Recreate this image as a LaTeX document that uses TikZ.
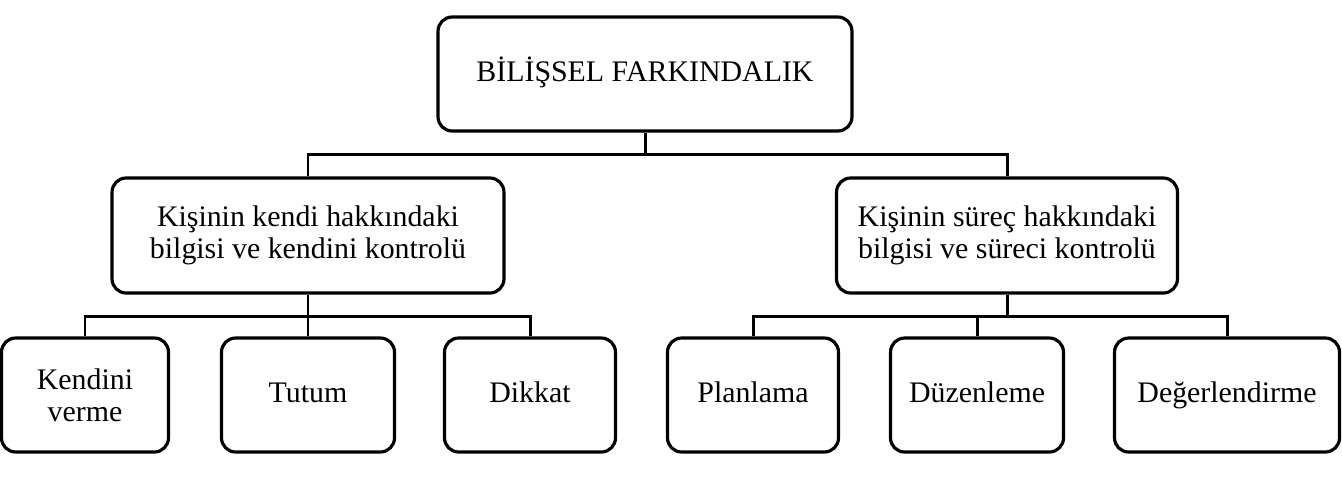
\documentclass[tikz,border=0pt]{standalone}
\usepackage{fontspec}
\setmainfont{Liberation Serif}
\tikzset{
  box/.style={draw, line width=1.8pt, rounded corners=8pt, align=center,
    minimum height=2.28cm, inner sep=2pt, font=\fontsize{17}{18}\selectfont},
  leaf/.style={box, text height=12pt, text depth=4pt},
  link/.style={line width=1.7pt}
}
\begin{document}
\begin{tikzpicture}[x=0.02cm,y=-0.02cm]
  \useasboundingbox (0,0) rectangle (1342,478);
  % top level
  \node[leaf, minimum width=8.28cm] (top) at (645,74) {BİLİŞSEL FARKINDALIK};
  % second level
  \node[box, minimum width=7.84cm, minimum height=2.3cm] (ml) at (308,235.5)
    {Kişinin kendi hakkındaki\\bilgisi ve kendini kontrolü};
  \node[box, minimum width=6.82cm, minimum height=2.3cm] (mr) at (1007,235.5)
    {Kişinin süreç hakkındaki\\bilgisi ve süreci kontrolü};
  % leaves
  \node[box, minimum width=3.34cm] (kv) at (85,395) {Kendini\\verme};
  \node[leaf, minimum width=3.46cm] (tt) at (308,395) {Tutum};
  \node[leaf, minimum width=3.42cm] (dk) at (530,395) {Dikkat};
  \node[leaf, minimum width=3.42cm] (pl) at (753,395) {Planlama};
  \node[leaf, minimum width=3.46cm] (dz) at (977,395) {Düzenleme};
  \node[leaf, minimum width=4.5cm] (dg) at (1227,395) {Değerlendirme};
  % connectors
  \coordinate (bus1) at (645,154);
  \coordinate (busl) at (308,316);
  \coordinate (busr) at (1007,316);
  \draw[link] (top.south) -- (bus1);
  \draw[link] (ml.north) |- (bus1) -| (mr.north);
  \draw[link] (ml.south) -- (tt.north);
  \draw[link] (kv.north) |- (busl) -| (dk.north);
  \draw[link] (mr.south) -- (busr);
  \draw[link] (pl.north) |- (busr) -| (dg.north);
  \draw[link] (dz.north) -- (dz.north |- busr);
\end{tikzpicture}
\end{document}
